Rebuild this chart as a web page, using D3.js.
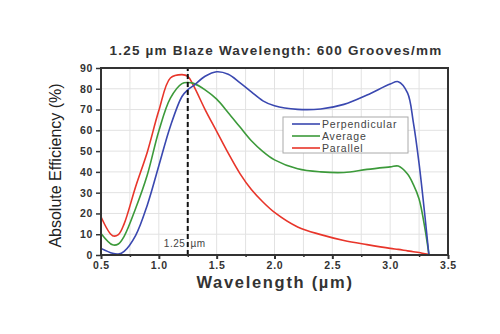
<!DOCTYPE html>
<html>
<head>
<meta charset="utf-8">
<script src="https://cdn.jsdelivr.net/npm/d3@7"></script>
<style>
  body { margin: 0; background: #fff; }
  text { font-family: "Liberation Sans", Arial, sans-serif; }
</style>
</head>
<body>
<script>
// wavelength grid (um) shared by the three curves
var wavelength = [0.5, 0.6, 0.65, 0.7, 0.8, 0.9, 1.0, 1.1, 1.2, 1.25, 1.3, 1.4, 1.5, 1.6, 1.7, 1.8, 1.9, 2.0, 2.2, 2.4, 2.6, 2.8, 3.0, 3.07, 3.15, 3.2, 3.25, 3.3, 3.335];
var perpendicular = [3.2, 0.8, 0.5, 1.8, 9.5, 24, 43, 62, 76.3, 79.5, 81.5, 86, 88.2, 87, 83, 78.5, 74.2, 71.8, 70.1, 70.3, 72.5, 77, 82.3, 83.4, 78, 64, 44, 19, 0];
var average = [10.4, 4.9, 5.3, 9, 22.5, 38.5, 59.7, 75.5, 82.5, 83, 82.6, 79.5, 75, 68.5, 61.7, 55, 49.8, 45.8, 41.5, 40, 39.7, 41.2, 42.4, 42.8, 39, 34, 27, 13, 0.3];
var parallel = [18.4, 9.3, 9.8, 15, 33, 49.5, 69.5, 85.2, 86.8, 86, 81.5, 70, 59.5, 49, 39.3, 31.5, 25.5, 20.5, 13.5, 9.8, 7, 5, 3.2, 2.7, 2, 1.6, 1.2, 0.6, 0.3];
var seriesNames = ["Perpendicular", "Average", "Parallel"];
var seriesColors = ["#3a48b0", "#3c9a3a", "#e8352a"];
var xTicks = [0.5, 1.0, 1.5, 2.0, 2.5, 3.0, 3.5];
var yTicks = [0, 10, 20, 30, 40, 50, 60, 70, 80, 90];
var blaze = 1.25;

var width = 500, height = 334;
var plotLeft = 101, plotRight = 448, plotTop = 68, plotBottom = 255;

var svg = d3.select("body").append("svg")
    .attr("width", width)
    .attr("height", height);

var x = d3.scaleLinear().domain([0.5, 3.5]).range([plotLeft, plotRight]);
var y = d3.scaleLinear().domain([0, 90]).range([plotBottom, plotTop]);

// grid
var gridX = d3.range(0.75, 3.5, 0.25);
svg.append("g").selectAll("line").data(gridX).enter().append("line")
    .attr("x1", d => x(d)).attr("x2", d => x(d))
    .attr("y1", plotTop).attr("y2", plotBottom)
    .attr("stroke", "#e2e2e2").attr("stroke-width", 1);
svg.append("g").selectAll("line").data(yTicks.slice(1, -1)).enter().append("line")
    .attr("x1", plotLeft).attr("x2", plotRight)
    .attr("y1", d => y(d)).attr("y2", d => y(d))
    .attr("stroke", "#e2e2e2").attr("stroke-width", 1);

// curves
var allSeries = [perpendicular, average, parallel];
var line = d3.line()
    .x(d => x(d[0]))
    .y(d => y(d[1]))
    .curve(d3.curveCatmullRom.alpha(0.5));

// parallel first so blue sits on top like the original
[2, 1, 0].forEach(function(k) {
    svg.append("path")
        .datum(wavelength.map((w, i) => [w, allSeries[k][i]]))
        .attr("d", line)
        .attr("fill", "none")
        .attr("stroke", seriesColors[k])
        .attr("stroke-width", 1.6);
});

// blaze marker
svg.append("line")
    .attr("x1", x(blaze)).attr("x2", x(blaze))
    .attr("y1", plotBottom).attr("y2", plotTop)
    .attr("stroke", "#111").attr("stroke-width", 2)
    .attr("stroke-dasharray", "5,3");
svg.append("text")
    .attr("x", x(blaze) - 3).attr("y", 247)
    .attr("text-anchor", "middle")
    .attr("font-size", 10)
    .attr("fill", "#444")
    .attr("letter-spacing", 0.5)
    .attr("word-spacing", 2)
    .text("1.25 µm");

// frame
svg.append("rect")
    .attr("x", plotLeft).attr("y", plotTop)
    .attr("width", plotRight - plotLeft).attr("height", plotBottom - plotTop)
    .attr("fill", "none").attr("stroke", "#333").attr("stroke-width", 2);

// axes
var xAxis = d3.axisBottom(x).tickValues(xTicks).tickFormat(d3.format(".1f")).tickSize(4).tickPadding(3);
var gx = svg.append("g").attr("transform", "translate(0," + plotBottom + ")").call(xAxis);
gx.select(".domain").remove();
gx.selectAll("line").attr("stroke", "#333").attr("stroke-width", 2);
gx.selectAll("text").attr("font-size", 10.5).attr("font-weight", "bold")
    .attr("fill", "#333").attr("letter-spacing", 0.8)
    .attr("font-family", "Liberation Sans, Arial, sans-serif");

var xMinor = d3.axisBottom(x).tickValues(d3.range(0.75, 3.5, 0.5)).tickSize(2).tickFormat("");
var gxm = svg.append("g").attr("transform", "translate(0," + plotBottom + ")").call(xMinor);
gxm.select(".domain").remove();
gxm.selectAll("line").attr("stroke", "#333").attr("stroke-width", 1.5);

var yAxis = d3.axisLeft(y).tickValues(yTicks).tickSize(5).tickPadding(3);
var gy = svg.append("g").attr("transform", "translate(" + plotLeft + ",0)").call(yAxis);
gy.select(".domain").remove();
gy.selectAll("line").attr("stroke", "#333").attr("stroke-width", 1.5);
gy.selectAll("text").attr("font-size", 10.5).attr("font-weight", "bold")
    .attr("fill", "#333").attr("letter-spacing", 0.6)
    .attr("font-family", "Liberation Sans, Arial, sans-serif");

// titles
svg.append("text")
    .attr("x", 276).attr("y", 55)
    .attr("text-anchor", "middle")
    .attr("font-size", 13.5).attr("font-weight", "bold")
    .attr("letter-spacing", 1.2)
    .attr("fill", "#333")
    .text("1.25 µm Blaze Wavelength: 600 Grooves/mm");

svg.append("text")
    .attr("x", 275).attr("y", 288)
    .attr("text-anchor", "middle")
    .attr("font-size", 16.5).attr("font-weight", "bold")
    .attr("letter-spacing", 1.7)
    .attr("fill", "#333")
    .text("Wavelength (µm)");

svg.append("text")
    .attr("transform", "translate(61," + ((plotTop + plotBottom) / 2 + 4) + ") rotate(-90)")
    .attr("text-anchor", "middle")
    .attr("font-size", 16)
    .attr("fill", "#222")
    .text("Absolute Efficiency (%)");

// legend
var legend = svg.append("g").attr("transform", "translate(283,117)");
legend.append("rect")
    .attr("width", 125).attr("height", 36)
    .attr("fill", "#fff").attr("stroke", "#aaa").attr("stroke-width", 1);
seriesNames.forEach(function(name, i) {
    legend.append("line")
        .attr("x1", 9).attr("x2", 37)
        .attr("y1", 7 + i * 12).attr("y2", 7 + i * 12)
        .attr("stroke", seriesColors[i]).attr("stroke-width", 1.6);
    legend.append("text")
        .attr("x", 39).attr("y", 10.8 + i * 12)
        .attr("font-size", 10.5).attr("letter-spacing", 0.8)
        .attr("fill", "#444")
        .text(name);
});
</script>
</body>
</html>
